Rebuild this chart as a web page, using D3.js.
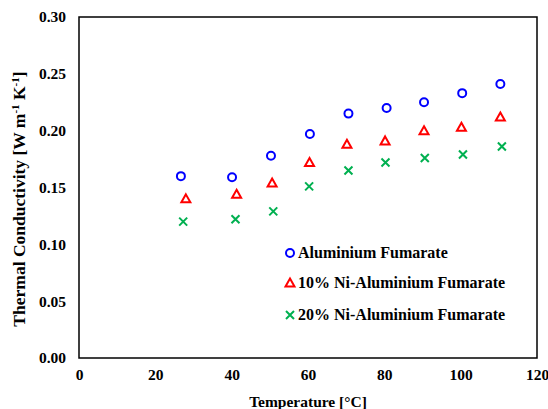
<!DOCTYPE html>
<html>
<head>
<meta charset="utf-8">
<script src="https://cdn.jsdelivr.net/npm/d3@7"></script>
<style>
  body { margin: 0; background: #fff; }
  text { font-family: "Liberation Serif", "Times New Roman", serif; font-weight: bold; }
</style>
</head>
<body>
<script>
// data
var temps0 = [26.7, 40.1, 50.3, 60.5, 70.6, 80.6, 90.4, 100.4, 110.4];
var alFum = [0.160, 0.159, 0.178, 0.197, 0.215, 0.220, 0.225, 0.233, 0.241];
var temps10 = [28.0, 41.3, 50.6, 60.4, 70.2, 80.2, 90.4, 100.2, 110.4];
var ni10 = [0.140, 0.144, 0.154, 0.172, 0.188, 0.191, 0.200, 0.203, 0.212];
var temps20 = [27.3, 41.0, 50.9, 60.3, 70.6, 80.3, 90.6, 100.6, 110.8];
var ni20 = [0.120, 0.122, 0.129, 0.151, 0.165, 0.172, 0.176, 0.179, 0.186];
var seriesNames = ["Aluminium Fumarate", "10% Ni-Aluminium Fumarate", "20% Ni-Aluminium Fumarate"];
var xTicks = [0, 20, 40, 60, 80, 100, 120];
var yTicks = [0, 0.05, 0.10, 0.15, 0.20, 0.25, 0.30];

var width = 548, height = 409;
var plotL = 79, plotT = 17, plotR = 537, plotB = 358;
var fs = 15.5;

var svg = d3.select("body").append("svg").attr("width", width).attr("height", height);

var xScale = d3.scaleLinear().domain([0, 120]).range([plotL, plotR]);
var yScale = d3.scaleLinear().domain([0, 0.30]).range([plotB, plotT]);

// plot frame
svg.append("rect")
    .attr("x", plotL).attr("y", plotT)
    .attr("width", plotR - plotL).attr("height", plotB - plotT)
    .attr("fill", "none").attr("stroke", "black").attr("stroke-width", 1.5);

// axes (labels only, no tick marks)
var xAxis = d3.axisBottom(xScale).tickValues(xTicks).tickSize(0).tickPadding(11).tickFormat(d3.format("d"));
var yAxis = d3.axisLeft(yScale).tickValues(yTicks).tickSize(0).tickPadding(13).tickFormat(d3.format(".2f"));

var gx = svg.append("g").attr("transform", "translate(0," + plotB + ")").call(xAxis);
var gy = svg.append("g").attr("transform", "translate(" + plotL + ",0)").call(yAxis);
[gx, gy].forEach(function(g) {
    g.select(".domain").remove();
    g.selectAll("text").attr("font-family", "Liberation Serif").attr("font-weight", "bold")
        .attr("font-size", fs).attr("fill", "black");
});

// axis titles
svg.append("text").attr("x", (plotL + plotR) / 2).attr("y", 407)
    .attr("text-anchor", "middle").attr("font-size", fs).text("Temperature [°C]");

var yt = svg.append("text").attr("transform", "translate(25,199) rotate(-90)")
    .attr("text-anchor", "middle").attr("font-size", 17.5);
yt.append("tspan").text("Thermal Conductivity [W m");
yt.append("tspan").attr("dy", -6).attr("font-size", 11).text("-1");
yt.append("tspan").attr("dy", 6).text(" K");
yt.append("tspan").attr("dy", -6).attr("font-size", 11).text("-1");
yt.append("tspan").attr("dy", 6).text("]");

// markers
var blue = "#0000ff", red = "#ff0000", green = "#00b050";
function circleMark(g, x, y) {
    g.append("circle").attr("cx", x).attr("cy", y).attr("r", 4)
        .attr("fill", "none").attr("stroke", blue).attr("stroke-width", 2);
}
function triMark(g, x, y) {
    g.append("path").attr("d", "M" + x + "," + (y - 4.5) + "L" + (x + 4.5) + "," + (y + 3.5) + "L" + (x - 4.5) + "," + (y + 3.5) + "Z")
        .attr("fill", "none").attr("stroke", red).attr("stroke-width", 2);
}
function crossMark(g, x, y) {
    g.append("path").attr("d", "M" + (x - 4) + "," + (y - 4) + "L" + (x + 4) + "," + (y + 4) + "M" + (x - 4) + "," + (y + 4) + "L" + (x + 4) + "," + (y - 4))
        .attr("fill", "none").attr("stroke", green).attr("stroke-width", 2);
}

var pts = svg.append("g");
alFum.forEach(function(v, i) { circleMark(pts, xScale(temps0[i]), yScale(v)); });
ni10.forEach(function(v, i) { triMark(pts, xScale(temps10[i]), yScale(v)); });
ni20.forEach(function(v, i) { crossMark(pts, xScale(temps20[i]), yScale(v)); });

// legend
var legY = [253, 283, 315];
var markers = [circleMark, triMark, crossMark];
seriesNames.forEach(function(name, i) {
    markers[i](svg, 290, legY[i]);
    svg.append("text").attr("x", 298).attr("y", legY[i] + 5).attr("font-size", 16).text(name);
});
</script>
</body>
</html>
